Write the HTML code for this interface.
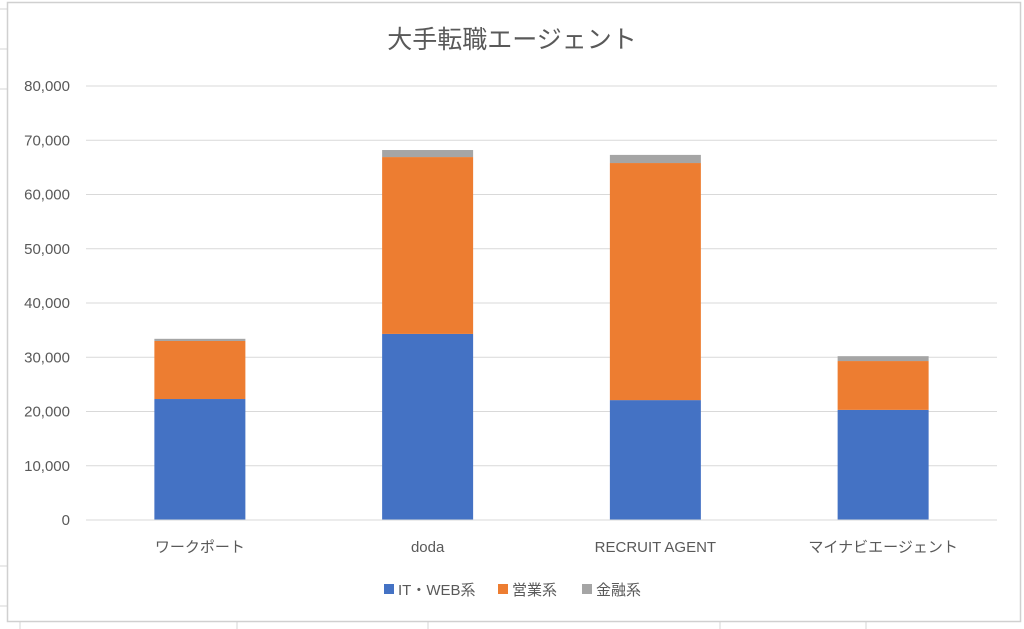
<!DOCTYPE html>
<html><head><meta charset="utf-8">
<style>
body{margin:0;width:1024px;height:629px;background:#fff;overflow:hidden;font-family:"Liberation Sans","Noto Sans CJK JP",sans-serif;}
</style></head>
<body>
<svg id="chart" width="1024" height="629" style="position:absolute;left:0;top:0">
  <g stroke="#d4d4d4" stroke-width="1">
    <line x1="0" y1="9" x2="7" y2="9"/><line x1="0" y1="49" x2="7" y2="49"/><line x1="0" y1="89" x2="7" y2="89"/>
    <line x1="0" y1="566" x2="7" y2="566"/><line x1="0" y1="606" x2="7" y2="606"/>
    <line x1="20" y1="622" x2="20" y2="629"/><line x1="237" y1="622" x2="237" y2="629"/>
    <line x1="428" y1="622" x2="428" y2="629"/><line x1="720" y1="622" x2="720" y2="629"/><line x1="866" y1="622" x2="866" y2="629"/>
  </g>
  <rect x="7.5" y="2.5" width="1013" height="619" fill="#fff" stroke="#d0d0d0" stroke-width="1.5"/>
  <text x="512" y="48" text-anchor="middle" font-size="25" fill="#595959">大手転職エージェント</text>
  <g id="grid"></g>
  <g id="bars"></g>
  <g id="labels"></g>
  <g font-size="15" fill="#595959">
    <rect x="384" y="584" width="10" height="10" fill="#4472c4"/>
    <text x="398" y="595">IT・WEB系</text>
    <rect x="498" y="584" width="10" height="10" fill="#ed7d31"/>
    <text x="512" y="595">営業系</text>
    <rect x="582" y="584" width="10" height="10" fill="#a5a5a5"/>
    <text x="596" y="595">金融系</text>
  </g>
</svg>
<script>
const categories = ["ワークポート","doda","RECRUIT AGENT","マイナビエージェント"];
const itWeb = [22300, 34300, 22100, 20300];
const sales = [10700, 32600, 43700, 9000];
const finance = [400, 1300, 1500, 900];
const yTicks = [0,10000,20000,30000,40000,50000,60000,70000,80000];
const seriesColors = ["#4472c4","#ed7d31","#a5a5a5"];
const seriesNames = ["it-web","sales","finance"];

const NS="http://www.w3.org/2000/svg";
const plotL=86, plotR=997, y0=520, yTop=86, yMax=80000;
const y = v => y0 - (v/yMax)*(y0-yTop);
const band = (plotR-plotL)/categories.length;
const xc = i => plotL + band*(i+0.5);
const barW = 91;

const grid=document.getElementById('grid');
yTicks.forEach(t=>{
  const l=document.createElementNS(NS,'line');
  
  
  l.setAttribute('x1',plotL);l.setAttribute('x2',plotR);
  l.setAttribute('y1',y(t));l.setAttribute('y2',y(t));
  l.setAttribute('stroke','#d9d9d9');l.setAttribute('stroke-width','1');
  grid.appendChild(l);
  const tx=document.createElementNS(NS,'text');
  
  
  tx.setAttribute('x',70);tx.setAttribute('y',y(t)+5);
  tx.setAttribute('text-anchor','end');tx.setAttribute('font-size','15');tx.setAttribute('fill','#595959');
  tx.textContent=t.toLocaleString('en-US');
  grid.appendChild(tx);
});
const bars=document.getElementById('bars');
const series=[itWeb,sales,finance];
categories.forEach((c,i)=>{
  let base=0;
  series.forEach((s,k)=>{
    const r=document.createElementNS(NS,'rect');
    
    
    r.setAttribute('x',xc(i)-barW/2);r.setAttribute('width',barW);
    r.setAttribute('y',y(base+s[i]));r.setAttribute('height',y(base)-y(base+s[i]));
    r.setAttribute('fill',seriesColors[k]);
    bars.appendChild(r);
    base+=s[i];
  });
  const tx=document.createElementNS(NS,'text');
  
  
  tx.setAttribute('x',xc(i));tx.setAttribute('y',552);
  tx.setAttribute('text-anchor','middle');tx.setAttribute('font-size','15');tx.setAttribute('fill','#595959');
  tx.textContent=c;
  document.getElementById('labels').appendChild(tx);
});
const ax=document.createElementNS(NS,'line');


ax.setAttribute('x1',plotL);ax.setAttribute('x2',plotR);ax.setAttribute('y1',y0);ax.setAttribute('y2',y0);
ax.setAttribute('stroke','#d9d9d9');
bars.appendChild(ax);
</script>
</body></html>
